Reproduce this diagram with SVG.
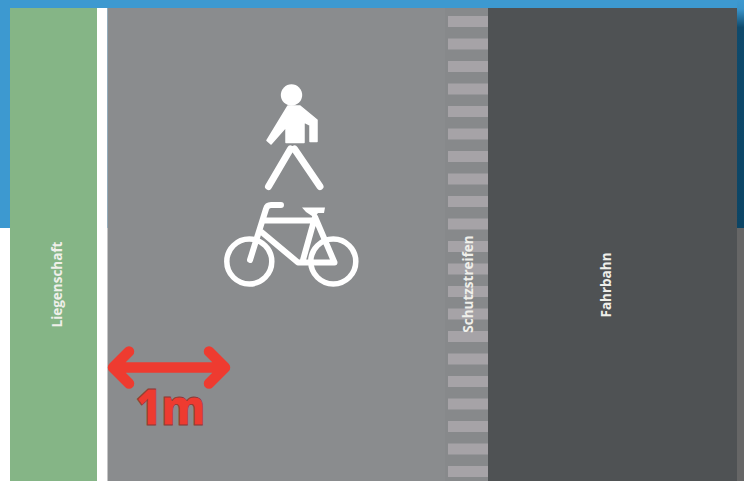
<svg xmlns="http://www.w3.org/2000/svg" width="744" height="481" viewBox="0 0 744 481">
<defs>
<linearGradient id="rs" x1="0" y1="0" x2="0" y2="1"><stop offset="0" stop-color="#3d99d0"/><stop offset="0.04" stop-color="#3a94ca"/><stop offset="0.12" stop-color="#0f4a6c"/><stop offset="1" stop-color="#0c4565"/></linearGradient>
<filter id="soft" x="-5%" y="-5%" width="110%" height="110%"><feGaussianBlur stdDeviation="0.5"/></filter>
</defs>
<style>
.w{stroke:#fff;fill:none;stroke-linecap:round;stroke-linejoin:round}
.s{fill:#a6a3a7}
.t{font-family:"Open Sans","Liberation Sans",sans-serif;font-weight:700;font-size:13.500px;fill:#efefea;text-anchor:middle}
</style>
<rect width="744" height="481" fill="#fff"/>
<rect width="744" height="228" fill="#3d99d0"/>
<rect x="737" y="0" width="7" height="228" fill="url(#rs)"/>
<rect x="737" y="228" width="7" height="253" fill="#666"/>
<rect x="10" y="8" width="87" height="473" fill="#85b586"/>
<rect x="97" y="8" width="10.500" height="473" fill="#fff"/>
<rect x="107.500" y="8" width="381" height="473" fill="#8a8c8e"/>
<rect x="445" y="8" width="43" height="473" fill="#87898b"/>
<rect x="488" y="8" width="249" height="473" fill="#4f5254"/>
<g id="stripes" filter="url(#soft)">
<rect class="s" x="448" y="16" width="40" height="11"/><rect class="s" x="448" y="38.500" width="40" height="11"/><rect class="s" x="448" y="61" width="40" height="11"/><rect class="s" x="448" y="83.500" width="40" height="11"/><rect class="s" x="448" y="106" width="40" height="11"/><rect class="s" x="448" y="128.500" width="40" height="11"/><rect class="s" x="448" y="151" width="40" height="11"/><rect class="s" x="448" y="173.500" width="40" height="11"/><rect class="s" x="448" y="196" width="40" height="11"/><rect class="s" x="448" y="218.500" width="40" height="11"/><rect class="s" x="448" y="241" width="40" height="11"/><rect class="s" x="448" y="263.500" width="40" height="11"/><rect class="s" x="448" y="286" width="40" height="11"/><rect class="s" x="448" y="308.500" width="40" height="11"/><rect class="s" x="448" y="331" width="40" height="11"/><rect class="s" x="448" y="353.500" width="40" height="11"/><rect class="s" x="448" y="376" width="40" height="11"/><rect class="s" x="448" y="398.500" width="40" height="11"/><rect class="s" x="448" y="421" width="40" height="11"/><rect class="s" x="448" y="443.500" width="40" height="11"/><rect class="s" x="448" y="466" width="40" height="11"/>
</g>
<g id="pedestrian">
<circle cx="291.500" cy="95" r="10.700" fill="#fff"/>
<path d="M288 106H300L317 120V141.500H310V125L304 122V142.500H286V127L271 144L267 140.500Z" fill="#fff" stroke="#fff" stroke-width="1.500" stroke-linejoin="round"/>
<path class="w" stroke-width="7" d="M290.500 149L268.500 186.500M294.500 149L320 186.500"/>
</g>
<g id="bicycle">
<circle class="w" cx="249.300" cy="261.500" r="22.500" stroke-width="5.500"/>
<circle class="w" cx="333.300" cy="261.500" r="22.500" stroke-width="5.500"/>
<path class="w" stroke-width="6" d="M250 260L266 209Q267 205 271 205H281M263 220.500H315M261.500 232L298 262.500H334.500L315 217L303 260"/>
<path d="M302 207.500H325L324 213H318L315 217L312 216L306 212Z" fill="#fff"/>
</g>
<g id="dimension">
<path d="M113 367.500H225M129 351.500L113 367.500L129 383.500M209 351.500L225 367.500L209 383.500" fill="none" stroke="#ee3b30" stroke-width="10.500" stroke-linecap="round" stroke-linejoin="round"/>
<text x="170.500" y="425" font-family="'Open Sans','Liberation Sans',sans-serif" font-weight="800" font-size="50" fill="#ee3b30" stroke="#8a3a38" stroke-width="0.8" text-anchor="middle" textLength="70" lengthAdjust="spacingAndGlyphs">1m</text>
</g>
<text id="liegenschaft" class="t" transform="translate(62 284.500) rotate(-90)">Liegenschaft</text>
<text id="schutzstreifen" class="t" transform="translate(473 284) rotate(-90)">Schutzstreifen</text>
<text id="fahrbahn" class="t" transform="translate(610.500 285) rotate(-90)">Fahrbahn</text>
</svg>
